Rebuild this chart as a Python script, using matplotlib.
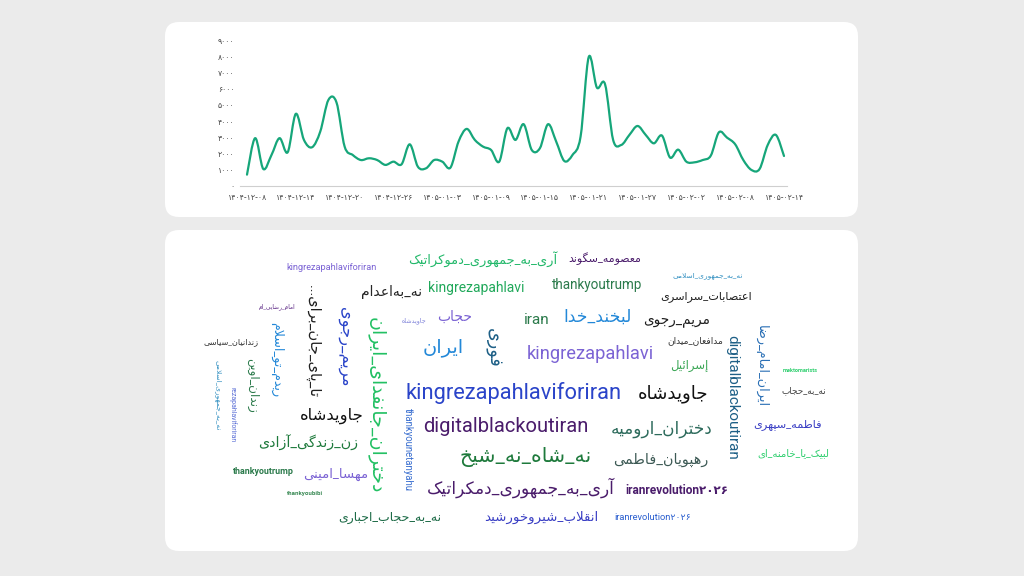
import matplotlib
matplotlib.use('Agg')
import matplotlib.pyplot as plt
from matplotlib.patches import FancyBboxPatch, PathPatch
from matplotlib.path import Path
import numpy as np

# ---------------- data ----------------
tick_labels = ['۱۴۰۴-۱۲-۰۸', '۱۴۰۴-۱۲-۱۴', '۱۴۰۴-۱۲-۲۰', '۱۴۰۴-۱۲-۲۶',
               '۱۴۰۵-۰۱-۰۳', '۱۴۰۵-۰۱-۰۹', '۱۴۰۵-۰۱-۱۵', '۱۴۰۵-۰۱-۲۱',
               '۱۴۰۵-۰۱-۲۷', '۱۴۰۵-۰۲-۰۲', '۱۴۰۵-۰۲-۰۸', '۱۴۰۵-۰۲-۱۴']
y_ticks = [0, 1000, 2000, 3000, 4000, 5000, 6000, 7000, 8000, 9000]
y_tick_labels = ['۰', '۱۰۰۰', '۲۰۰۰', '۳۰۰۰', '۴۰۰۰', '۵۰۰۰',
                 '۶۰۰۰', '۷۰۰۰', '۸۰۰۰', '۹۰۰۰']
# daily counts, 1404-12-08 .. 1405-02-14
daily_counts = [700, 2950, 1050, 1900, 2950, 2080, 4450, 2840, 2390, 3350,
                5300, 5150, 2430, 1910, 1600, 1710, 1600, 1300, 1500, 1340,
                2570, 1190, 1090, 1600, 1500, 1130, 2740, 3520, 2840, 2430,
                2220, 1500, 3560, 2840, 3810, 2220, 2330, 3810, 2740, 1540,
                1910, 3050, 7950, 6070, 6280, 2840, 2530, 3150, 3700, 3150,
                2630, 3110, 1750, 2240, 1500, 1460, 1600, 1870, 3310, 2980,
                2570, 1600, 990, 1050, 2530, 3150, 1850]
tick_every = 6

# word cloud words
words = ['kingrezapahlaviforiran', 'آری_به_جمهوری_دموکراتیک', 'معصومه_سگوند',
         'kingrezapahlavi', 'thankyoutrump', 'نه_به\u200cاعدام', 'نه_به_جمهوری_اسلامی',
         'اعتصابات_سراسری', 'امام_رضایی_ام', 'حجاب', 'جاوید\u200cشاه', 'iran',
         'لبخند_خدا', 'مریم_رجوی', 'زندانیان_سیاسی', 'ایران', 'kingrezapahlavi',
         'مدافعان_میدان', 'إسرائیل', 'kingrezapahlaviforiran', 'جاویدشاه',
         'جاویدشاه', 'digitalblackoutiran', 'دختران_ارومیه', 'زن_زندگی_آزادی',
         'نه_شاه_نه_شیخ', 'رهپویان_فاطمی', 'فاطمه_سپهری', 'لبیک_یا_خامنه_ای',
         'نه_به_حجاب', 'mektomarists', 'thankyoutrump', 'مهسا_امینی', 'thankyoubibi',
         'آری_به_جمهوری_دمکراتیک', 'iranrevolution۲۰۲۶', 'نه_به_حجاب_اجباری',
         'انقلاب_شیروخورشید', 'iranrevolution۲۰۲۶',
         'تا_پای_جان_برای...', 'مریم_رجوی', 'دختران_جانفدای_ایران', 'ریدم_تو_اسلام',
         'زندان_اوین', 'نه_به_جمهوری_اسلامی', 'rezapahlaviforiran', 'thankyounetanyahu',
         'فوری', 'digitalblackoutiran', 'ایران_امام_رضا']

# ---------------- layout / style ----------------
# (center x px, center y px, extent px along text, rotation, color, bold)
layout = [
    (332, 268, 91, 0, '#7b63d4', False),
    (483, 259, 150, 0, '#22b86a', False),
    (605, 259, 73, 0, '#4a1c6b', False),
    (476, 288, 96, 0, '#20a85a', False),
    (597, 285, 91, 0, '#2b7a4b', False),
    (392, 292, 61, 0, '#262626', False),
    (708, 276, 70, 0, '#2f8ec0', False),
    (706, 297, 92, 0, '#1f1f1f', False),
    (277, 307, 37, 0, '#5e2a86', False),
    (455, 317, 35, 0, '#7b63d4', False),
    (414, 321, 25, 0, '#7b7fd8', False),
    (537, 320, 26, 0, '#2b7a4b', False),
    (598, 317, 69, 0, '#2388d8', False),
    (677, 320, 67, 0, '#1f1f1f', False),
    (231, 342, 55, 0, '#333333', False),
    (443, 348, 41, 0, '#2388d8', False),
    (590, 354, 127, 0, '#7b63d4', False),
    (695, 341, 56, 0, '#333333', False),
    (689, 366, 38, 0, '#3aa655', False),
    (514, 393, 217, 0, '#2a44c9', False),
    (673, 394, 71, 0, '#111111', False),
    (332, 416, 64, 0, '#111111', False),
    (506, 426, 165, 0, '#4a1c6b', False),
    (662, 429, 101, 0, '#2d6b5c', False),
    (308, 443, 100, 0, '#1e7a3c', False),
    (526, 457, 133, 0, '#1e7a3c', False),
    (661, 460, 95, 0, '#3d5a55', False),
    (788, 425, 69, 0, '#3a3fc4', False),
    (793, 453, 73, 0, '#2fcf6f', False),
    (804, 391, 45, 0, '#444444', False),
    (800, 370, 35, 0, '#2fcf6f', True),
    (263, 472, 61, 0, '#2b7a4b', True),
    (336, 474, 65, 0, '#7b63d4', False),
    (305, 494, 36, 0, '#3a8a55', True),
    (521, 488, 188, 0, '#4a1c6b', False),
    (677, 490, 103, 0, '#4a1c6b', True),
    (390, 517, 104, 0, '#1d6b47', False),
    (541, 517, 115, 0, '#3a3fc4', False),
    (653, 517, 77, 0, '#2b5fcf', False),
    (313, 341, 113, -90, '#1f1f1f', False),
    (344, 347, 80, -90, '#2a44c9', False),
    (376, 405, 176, -90, '#22c063', False),
    (277, 360, 76, -90, '#2388d8', False),
    (253, 385, 55, -90, '#2b7a4b', False),
    (218, 395, 70, -90, '#2f8ec0', False),
    (232, 415, 55, -90, '#5b6fd6', False),
    (408, 450, 84, -90, '#3a6fd0', False),
    (493, 348, 40, -90, '#1d5f86', False),
    (732, 397, 125, -90, '#1d5f86', False),
    (761, 366, 82, -90, '#2a6fb5', False),
]

# ---------------- Persian shaping helper ----------------
FORMS = {
    'آ': (0xFE81, 0xFE82), 'أ': (0xFE83, 0xFE84), 'ؤ': (0xFE85, 0xFE86),
    'إ': (0xFE87, 0xFE88), 'ئ': (0xFE89, 0xFE8A, 0xFE8B, 0xFE8C),
    'ا': (0xFE8D, 0xFE8E), 'ب': (0xFE8F, 0xFE90, 0xFE91, 0xFE92),
    'ة': (0xFE93, 0xFE94), 'ت': (0xFE95, 0xFE96, 0xFE97, 0xFE98),
    'ث': (0xFE99, 0xFE9A, 0xFE9B, 0xFE9C), 'ج': (0xFE9D, 0xFE9E, 0xFE9F, 0xFEA0),
    'ح': (0xFEA1, 0xFEA2, 0xFEA3, 0xFEA4), 'خ': (0xFEA5, 0xFEA6, 0xFEA7, 0xFEA8),
    'د': (0xFEA9, 0xFEAA), 'ذ': (0xFEAB, 0xFEAC), 'ر': (0xFEAD, 0xFEAE),
    'ز': (0xFEAF, 0xFEB0), 'س': (0xFEB1, 0xFEB2, 0xFEB3, 0xFEB4),
    'ش': (0xFEB5, 0xFEB6, 0xFEB7, 0xFEB8), 'ص': (0xFEB9, 0xFEBA, 0xFEBB, 0xFEBC),
    'ض': (0xFEBD, 0xFEBE, 0xFEBF, 0xFEC0), 'ط': (0xFEC1, 0xFEC2, 0xFEC3, 0xFEC4),
    'ظ': (0xFEC5, 0xFEC6, 0xFEC7, 0xFEC8), 'ع': (0xFEC9, 0xFECA, 0xFECB, 0xFECC),
    'غ': (0xFECD, 0xFECE, 0xFECF, 0xFED0), 'ف': (0xFED1, 0xFED2, 0xFED3, 0xFED4),
    'ق': (0xFED5, 0xFED6, 0xFED7, 0xFED8), 'ك': (0xFED9, 0xFEDA, 0xFEDB, 0xFEDC),
    'ل': (0xFEDD, 0xFEDE, 0xFEDF, 0xFEE0), 'م': (0xFEE1, 0xFEE2, 0xFEE3, 0xFEE4),
    'ن': (0xFEE5, 0xFEE6, 0xFEE7, 0xFEE8), 'ه': (0xFEE9, 0xFEEA, 0xFEEB, 0xFEEC),
    'و': (0xFEED, 0xFEEE), 'ى': (0xFEEF, 0xFEF0),
    'ي': (0xFEF1, 0xFEF2, 0xFEF3, 0xFEF4),
    'پ': (0xFB56, 0xFB57, 0xFB58, 0xFB59), 'چ': (0xFB7A, 0xFB7B, 0xFB7C, 0xFB7D),
    'ژ': (0xFB8A, 0xFB8B), 'ک': (0xFB8E, 0xFB8F, 0xFB90, 0xFB91),
    'گ': (0xFB92, 0xFB93, 0xFB94, 0xFB95), 'ی': (0xFBFC, 0xFBFD, 0xFBFE, 0xFBFF),
}
LAM_ALEF = {'ا': (0xFEFB, 0xFEFC), 'آ': (0xFEF5, 0xFEF6),
            'أ': (0xFEF7, 0xFEF8), 'إ': (0xFEF9, 0xFEFA)}


def is_dual(c):
    return c in FORMS and len(FORMS[c]) == 4


def shape_fa(s):
    if not any(c in FORMS for c in s):
        return s
    out = []
    i = 0
    n = len(s)
    prev_joins = False  # previous glyph can connect forward
    while i < n:
        c = s[i]
        if c == '\u200c':
            prev_joins = False
            i += 1
            continue
        if c not in FORMS:
            out.append(c)
            prev_joins = False
            i += 1
            continue
        if c == 'ل' and i + 1 < n and s[i + 1] in LAM_ALEF:
            iso, fin = LAM_ALEF[s[i + 1]]
            out.append(chr(fin if prev_joins else iso))
            prev_joins = False
            i += 2
            continue
        f = FORMS[c]
        nxt = s[i + 1] if i + 1 < n else ''
        next_joins = is_dual(c) and nxt in FORMS
        if prev_joins and next_joins:
            g = f[3]
        elif prev_joins:
            g = f[1]
        elif next_joins:
            g = f[2]
        else:
            g = f[0]
        out.append(chr(g))
        prev_joins = is_dual(c)
        i += 1
    return ''.join(out)[::-1]


# ---------------- figure ----------------
W, H = 1024, 576
fig = plt.figure(figsize=(W / 100, H / 100), dpi=100)
fig.patch.set_facecolor('#ebebeb')

bg = fig.add_axes([0, 0, 1, 1])
bg.set_xlim(0, W)
bg.set_ylim(H, 0)
bg.axis('off')
bg.patch.set_alpha(0)

for (x0, y0, x1, y1) in [(165, 22, 858, 217), (165, 230, 858, 551)]:
    bg.add_patch(FancyBboxPatch((x0, y0), x1 - x0, y1 - y0,
                                boxstyle='round,pad=0,rounding_size=14',
                                facecolor='white', edgecolor='none', zorder=0))

# ---- line chart ----
ax_l, ax_r, ax_t, ax_b = 240, 787, 40, 186
ax = fig.add_axes([ax_l / W, 1 - ax_b / H, (ax_r - ax_l) / W, (ax_b - ax_t) / H])
ax.patch.set_alpha(0)
n_days = len(daily_counts)
xs = np.arange(n_days, dtype=float)
ys = np.array(daily_counts, dtype=float)

# smooth curve drawn as cubic Bezier path through the data points
verts = [(xs[0], ys[0])]
codes = [Path.MOVETO]
for i in range(n_days - 1):
    p0 = np.array([xs[max(i - 1, 0)], ys[max(i - 1, 0)]])
    p1 = np.array([xs[i], ys[i]])
    p2 = np.array([xs[i + 1], ys[i + 1]])
    p3 = np.array([xs[min(i + 2, n_days - 1)], ys[min(i + 2, n_days - 1)]])
    c1 = p1 + (p2 - p0) / 6.0
    c2 = p2 - (p3 - p1) / 6.0
    verts += [tuple(c1), tuple(c2), tuple(p2)]
    codes += [Path.CURVE4] * 3
ax.add_patch(PathPatch(Path(verts, codes), facecolor='none',
                       edgecolor='#16a67a', lw=1.6, capstyle='round',
                       joinstyle='round'))

pad_days = (ax_r - ax_l) / ((784 - 247) / (n_days - 1))
span = (784 - 247) / (n_days - 1)
ax.set_xlim(-(247 - ax_l) / span, (n_days - 1) + (ax_r - 784) / span)
ax.set_ylim(0, 9000)
for sp in ['top', 'right', 'left']:
    ax.spines[sp].set_visible(False)
ax.spines['bottom'].set_color('#cfcfcf')
ax.spines['bottom'].set_linewidth(0.8)
ax.set_xticks(np.arange(0, n_days, tick_every))
ax.set_xticklabels(tick_labels, family='DejaVu Sans', fontsize=5.6, color='#444444')
ax.set_yticks(y_ticks)
ax.set_yticklabels(y_tick_labels, family='DejaVu Sans', fontsize=5.6, color='#444444')
ax.tick_params(axis='both', length=0)
ax.tick_params(axis='x', pad=5)
ax.tick_params(axis='y', pad=4)

# ---- word cloud ----
fig.canvas.draw()
renderer = fig.canvas.get_renderer()
for w, (x, y, L, rot, col, bold) in zip(words, layout):
    disp = shape_fa(w)
    t = bg.text(x, y, disp, fontsize=10, rotation=rot, ha='center', va='center',
                color=col, family=['Roboto', 'DejaVu Sans'],
                fontweight='bold' if bold else 'normal', zorder=3)
    bb = t.get_window_extent(renderer)
    cur = bb.height if rot else bb.width
    t.set_fontsize(10 * L / cur)

fig.savefig('out.png', dpi=100, facecolor=fig.get_facecolor())
